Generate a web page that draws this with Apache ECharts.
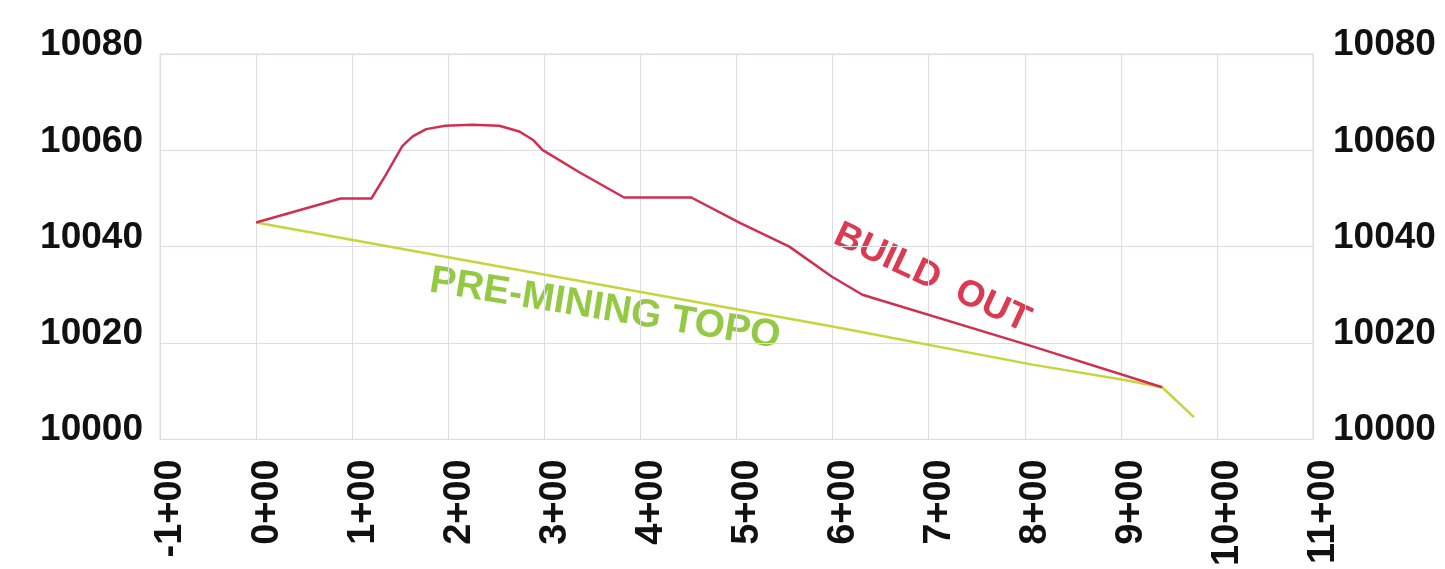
<!DOCTYPE html>
<html>
<head>
<meta charset="utf-8">
<script src="https://cdn.jsdelivr.net/npm/echarts@6/dist/echarts.min.js"></script>
<style>
html,body{margin:0;padding:0;background:#ffffff;}
#chart{width:1445px;height:569px;}
</style>
</head>
<body>
<div id="chart"></div>
<script>
// Station values (hundreds of feet) and elevations
const buildOutX = [0, 0.88, 1.2, 1.35, 1.52, 1.57, 1.63, 1.77, 1.97, 2.25, 2.53, 2.74, 2.88, 2.98, 3.36, 3.83, 4.53, 5.03, 5.55, 5.99, 6.31, 8.08, 9.43];
const buildOutY = [10045, 10050, 10050, 10054.9, 10060.8, 10061.8, 10062.9, 10064.4, 10065.1, 10065.3, 10065.1, 10063.9, 10062.2, 10060.1, 10055.5, 10050.2, 10050.2, 10045.0, 10040.0, 10033.8, 10030.0, 10019.3, 10010.8];
const topoX = [0, 2, 4.61, 6, 8.08, 9.01, 9.43, 9.76];
const topoY = [10045, 10037.8, 10028.4, 10023.4, 10015.5, 10012.4, 10010.8, 10004.6];
const xTicks = [-1, 0, 1, 2, 3, 4, 5, 6, 7, 8, 9, 10, 11];
const xTickLabels = ['-1+00', '0+00', '1+00', '2+00', '3+00', '4+00', '5+00', '6+00', '7+00', '8+00', '9+00', '10+00', '11+00'];
const yTickLabels = ['10000', '10020', '10040', '10060', '10080'];

const chart = echarts.init(document.getElementById('chart'));
const labelFont = 'Liberation Sans, Arial, sans-serif';
const yLabel = {
  fontFamily: labelFont, fontWeight: 'bold', fontSize: 37, color: '#111',
  verticalAlign: 'bottom', lineHeight: 18
};
chart.setOption({
  animation: false,
  backgroundColor: '#ffffff',
  grid: { left: 160, right: 132, top: 54, bottom: 129, show: true, borderColor: '#dcdce4', borderWidth: 1 },
  xAxis: {
    type: 'value', min: -1, max: 11, interval: 1,
    axisLine: { show: false }, axisTick: { show: false },
    splitLine: { show: true, lineStyle: { color: '#dcdce6', width: 1 } },
    axisLabel: {
      rotate: 90, margin: 20, fontFamily: labelFont, fontWeight: 'bold', fontSize: 38, color: '#111',
      verticalAlign: 'top', lineHeight: 22,
      formatter: v => xTickLabels[xTicks.indexOf(v)] || ''
    }
  },
  yAxis: [
    {
      type: 'value', min: 10000, max: 10080, interval: 20, position: 'left',
      axisLine: { show: false }, axisTick: { show: false },
      splitLine: { show: true, lineStyle: { color: '#dcdce6', width: 1 } },
      axisLabel: Object.assign({ margin: 17, formatter: v => yTickLabels[Math.round((v - 10000) / 20)] }, yLabel)
    },
    {
      type: 'value', min: 10000, max: 10080, interval: 20, position: 'right',
      axisLine: { show: false }, axisTick: { show: false }, splitLine: { show: false },
      axisLabel: Object.assign({ margin: 20, formatter: v => yTickLabels[Math.round((v - 10000) / 20)] }, yLabel)
    }
  ],
  series: [
    {
      name: 'PRE-MINING TOPO', type: 'line', symbol: 'none',
      data: topoX.map((x, i) => [x, topoY[i]]),
      lineStyle: { color: '#c4d63c', width: 2.5 }
    },
    {
      name: 'BUILD OUT', type: 'line', symbol: 'none',
      data: buildOutX.map((x, i) => [x, buildOutY[i]]),
      lineStyle: { color: '#d02f50', width: 2.5, join: 'round' }
    }
  ],
  graphic: [
    {
      type: 'text', x: 932, y: 278, rotation: -25 * Math.PI / 180,
      style: { text: 'BUILD  OUT', fontFamily: labelFont, fontWeight: 'bold', fontSize: 37, fill: '#dc3a50', align: 'center', verticalAlign: 'middle' }
    },
    {
      type: 'text', x: 605, y: 309, rotation: -9.2 * Math.PI / 180,
      style: { text: 'PRE-MINING TOPO', fontFamily: labelFont, fontWeight: 'bold', fontSize: 39, fill: '#94c944', align: 'center', verticalAlign: 'middle' }
    }
  ]
});
</script>
</body>
</html>
